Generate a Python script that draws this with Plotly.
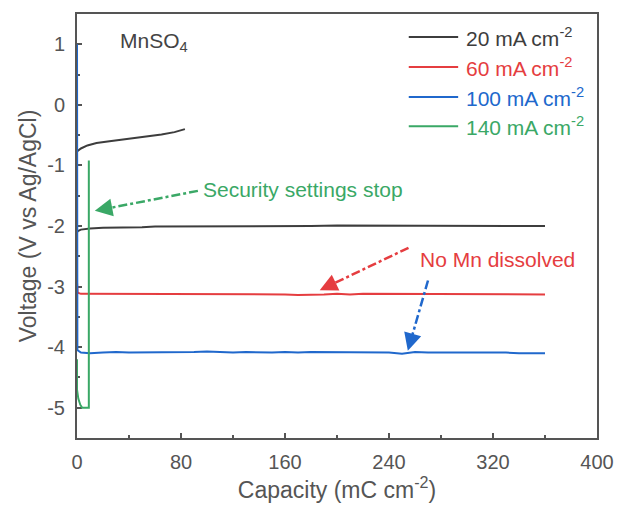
import plotly.graph_objects as go

# ---------------- data ----------------
black1_x = [0, 3, 8, 15, 25, 40, 55, 65, 75, 83]
black1_y = [-0.77, -0.72, -0.67, -0.63, -0.60, -0.56, -0.52, -0.49, -0.45, -0.40]

black2_x = [0, 1, 3, 6, 10, 20, 30, 40, 50, 60, 80, 100, 120, 140, 160, 180, 200,
            220, 240, 260, 280, 300, 320, 340, 360]
black2_y = [-2.10, -2.08, -2.06, -2.05, -2.04, -2.03, -2.03, -2.02, -2.02, -2.01,
            -2.01, -2.01, -2.00, -2.00, -2.00, -2.00, -1.99, -1.99, -1.99, -1.99,
            -1.99, -2.00, -2.00, -2.00, -2.00]

red_x = [0, 0.5, 3, 10, 20, 30, 40, 50, 60, 70, 80, 90, 100, 110, 120, 130, 140,
         150, 160, 170, 180, 190, 200, 210, 220, 230, 240, 250, 260, 270, 280,
         290, 300, 310, 320, 330, 340, 350, 360]
red_y = [-2.93, -3.10, -3.12, -3.12, -3.13, -3.12, -3.13, -3.12, -3.12, -3.13,
         -3.12, -3.13, -3.12, -3.13, -3.12, -3.13, -3.13, -3.12, -3.13, -3.14,
         -3.14, -3.13, -3.12, -3.13, -3.12, -3.12, -3.13, -3.12, -3.13, -3.12,
         -3.13, -3.13, -3.12, -3.13, -3.13, -3.12, -3.12, -3.13, -3.13]

blue_x = [0, 0, 0.3, 3, 10, 20, 30, 40, 50, 60, 70, 80, 90, 100, 110, 120, 130,
          140, 150, 160, 170, 180, 190, 200, 210, 220, 230, 240, 250, 260, 270,
          280, 290, 300, 310, 320, 330, 340, 350, 360]
blue_y = [1.00, -3.50, -4.05, -4.09, -4.10, -4.09, -4.08, -4.09, -4.09, -4.08,
          -4.09, -4.09, -4.08, -4.07, -4.08, -4.09, -4.08, -4.09, -4.09, -4.08,
          -4.09, -4.08, -4.08, -4.09, -4.08, -4.08, -4.09, -4.09, -4.11, -4.08,
          -4.09, -4.09, -4.08, -4.09, -4.08, -4.09, -4.09, -4.10, -4.10, -4.10]

green_x = [0, 0, 1, 2.5, 4, 9.1, 9.1]
green_y = [-4.20, -4.70, -4.85, -4.95, -5.00, -5.00, -0.92]

legend_labels = ["20 mA cm<sup>-2</sup>", "60 mA cm<sup>-2</sup>",
                 "100 mA cm<sup>-2</sup>", "140 mA cm<sup>-2</sup>"]

x_ticks = [0, 80, 160, 240, 320, 400]
y_ticks = [1, 0, -1, -2, -3, -4, -5]

# ---------------- style ----------------
BLACK = "#3d3d3d"
RED = "#e53d40"
BLUE = "#2068cc"
GREEN = "#3aa866"
AXIS = "#555555"
TXT = "#555555"
FONT = "Arial, Liberation Sans, sans-serif"

fig = go.Figure()
fig.add_trace(go.Scatter(x=black1_x, y=black1_y, mode="lines", line=dict(color=BLACK, width=2)))
fig.add_trace(go.Scatter(x=black2_x, y=black2_y, mode="lines", line=dict(color=BLACK, width=2)))
fig.add_trace(go.Scatter(x=red_x, y=red_y, mode="lines", line=dict(color=RED, width=2)))
fig.add_trace(go.Scatter(x=blue_x, y=blue_y, mode="lines", line=dict(color=BLUE, width=2)))
fig.add_trace(go.Scatter(x=green_x, y=green_y, mode="lines", line=dict(color=GREEN, width=2)))

shapes = []
annotations = []

# manual legend
leg_colors = [BLACK, RED, BLUE, GREEN]
leg_y = [0.946, 0.875, 0.804, 0.735]
for lab, col, yy in zip(legend_labels, leg_colors, leg_y):
    shapes.append(dict(type="line", xref="paper", yref="paper", x0=0.638, x1=0.733,
                       y0=yy, y1=yy, line=dict(color=col, width=2)))
    annotations.append(dict(xref="paper", yref="paper", x=0.745, y=yy, text=lab,
                            showarrow=False, xanchor="left", yanchor="middle",
                            font=dict(family=FONT, size=21, color=col)))

# MnSO4 label
annotations.append(dict(xref="paper", yref="paper", x=0.078, y=0.935,
                        text="MnSO<sub>4</sub>", showarrow=False, xanchor="left",
                        yanchor="middle", font=dict(family=FONT, size=21, color="#444444")))

# dash-dot arrows: (tail_x, tail_y, head_x, head_y, color)
arrows = [
    (93.0, -1.42, 13.7, -1.75, GREEN),
    (255.0, -2.36, 186.7, -3.06, RED),
    (270.0, -2.90, 254.5, -4.06, BLUE),
]
for tx, ty, hx, hy, col in arrows:
    fx = hx + (tx - hx) * 0.14
    fy = hy + (ty - hy) * 0.14
    shapes.append(dict(type="line", xref="x", yref="y", x0=tx, y0=ty, x1=fx, y1=fy,
                       line=dict(color=col, width=2.5, dash="dashdot")))
    annotations.append(dict(xref="x", yref="y", axref="x", ayref="y",
                            x=hx, y=hy, ax=fx + (tx - hx) * 0.02, ay=fy + (ty - hy) * 0.02,
                            text="", showarrow=True, arrowhead=2, arrowsize=1.6,
                            arrowwidth=2.2, arrowcolor=col))

annotations.append(dict(xref="x", yref="y", x=95.5, y=-1.40, text="Security settings stop",
                        showarrow=False, xanchor="left", yanchor="middle",
                        font=dict(family=FONT, size=21, color=GREEN)))
annotations.append(dict(xref="x", yref="y", x=262.5, y=-2.56, text="No Mn dissolved",
                        showarrow=False, xanchor="left", yanchor="middle",
                        font=dict(family=FONT, size=21, color=RED)))

fig.update_layout(
    width=626, height=506,
    margin=dict(l=77, r=22, t=14, b=68),
    paper_bgcolor="white", plot_bgcolor="white",
    showlegend=False,
    shapes=shapes, annotations=annotations,
    font=dict(family=FONT, color=TXT),
)
fig.update_xaxes(
    range=[0, 400], tickvals=x_ticks, ticktext=[str(v) for v in x_ticks],
    ticks="inside", ticklen=5, tickwidth=1.5, tickcolor=AXIS,
    minor=dict(ticks="inside", ticklen=3, tickwidth=1.5, tickcolor=AXIS, dtick=40, tick0=0),
    showline=True, linewidth=2, linecolor=AXIS, mirror=True, showgrid=False, zeroline=False,
    layer="below traces",
    tickfont=dict(family=FONT, size=20, color=TXT), ticklabelstandoff=5,
    title=dict(text="Capacity (mC cm<sup>-2</sup>)", font=dict(family=FONT, size=23, color=TXT),
               standoff=4),
)
fig.update_yaxes(
    range=[-5.5, 1.5], tickvals=y_ticks, ticktext=[str(v) for v in y_ticks],
    ticks="inside", ticklen=5, tickwidth=1.5, tickcolor=AXIS,
    minor=dict(ticks="inside", ticklen=3, tickwidth=1.5, tickcolor=AXIS, dtick=0.5, tick0=0),
    showline=True, linewidth=2, linecolor=AXIS, mirror=True, showgrid=False, zeroline=False,
    layer="below traces",
    tickfont=dict(family=FONT, size=20, color=TXT), ticklabelstandoff=6,
    title=dict(text="Voltage (V vs Ag/AgCl)", font=dict(family=FONT, size=23, color=TXT),
               standoff=4),
)

fig.write_html("out.html")
